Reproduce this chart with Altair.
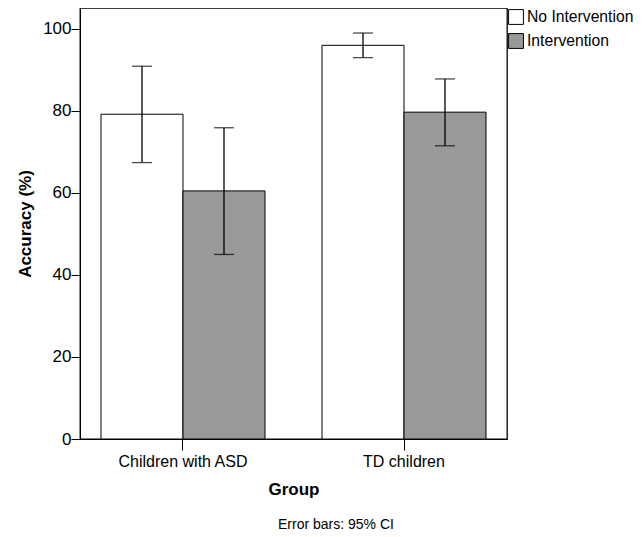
import altair as alt
import pandas as pd

groups = ["Children with ASD", "Children with ASD", "TD children", "TD children"]
conditions = ["No Intervention", "Intervention", "No Intervention", "Intervention"]
means = [79.2, 60.5, 96.0, 79.7]
ci_low = [67.4, 45.0, 93.0, 71.5]
ci_high = [90.9, 75.9, 99.0, 87.8]

df = pd.DataFrame({"group": groups, "cond": conditions, "mean": means,
                   "lo": ci_low, "hi": ci_high})

FONT = "Liberation Sans"
cond_order = ["No Intervention", "Intervention"]

x = alt.X("group:N", title="Group",
          scale=alt.Scale(paddingInner=0.258, paddingOuter=0.095),
          axis=alt.Axis(labelAngle=0, labelFontSize=16, labelFont=FONT,
                        titleFontSize=17, titleFont=FONT, titleFontWeight="bold",
                        tickSize=11, labelPadding=3, titlePadding=12,
                        domainColor="black", tickColor="black", labelColor="black",
                        titleColor="black"))
xo = alt.XOffset("cond:N", sort=cond_order, scale=alt.Scale(domain=cond_order, paddingInner=0, paddingOuter=0))
yscale = alt.Scale(domain=[0, 105.1], nice=False)

bars = alt.Chart(df).mark_bar(stroke="black", strokeWidth=1).encode(
    x=x,
    xOffset=xo,
    y=alt.Y("mean:Q", title="Accuracy (%)", scale=yscale,
            axis=alt.Axis(values=[0, 20, 40, 60, 80, 100], grid=False,
                          labelFontSize=17, labelFont=FONT, tickSize=9, labelPadding=0,
                          titleFontSize=17, titleFont=FONT, titleFontWeight="bold",
                          titlePadding=8, domainColor="black", tickColor="black",
                          labelColor="black", titleColor="black")),
    fill=alt.Fill("cond:N", sort=cond_order,
                  scale=alt.Scale(domain=cond_order, range=["#ffffff", "#999999"]),
                  legend=alt.Legend(title=None, orient="none", legendX=428, legendY=1,
                                    symbolType="square", symbolSize=220,
                                    symbolStrokeColor="black", symbolStrokeWidth=1,
                                    labelFontSize=15.7, labelFont=FONT, labelColor="black",
                                    rowPadding=4, labelOffset=3)),
)

rules = alt.Chart(df).mark_rule(color="black", strokeWidth=1.3).encode(
    x=x, xOffset=xo,
    y=alt.Y("lo:Q", scale=yscale), y2="hi:Q")

cap_lo = alt.Chart(df).mark_tick(color="black", size=20, thickness=1.3, orient="horizontal").encode(
    x=x, xOffset=xo, y=alt.Y("lo:Q", scale=yscale))
cap_hi = alt.Chart(df).mark_tick(color="black", size=20, thickness=1.3, orient="horizontal").encode(
    x=x, xOffset=xo, y=alt.Y("hi:Q", scale=yscale))

note = alt.Chart(pd.DataFrame({"t": ["Error bars: 95% CI"]})).mark_text(
    font=FONT, fontSize=14, color="black").encode(
    text="t:N", x=alt.value(256), y=alt.value(517))

chart = alt.layer(bars, rules, cap_lo, cap_hi, note).properties(
    width=427, height=431,
    autosize=alt.AutoSizeParams(type="none"),
    padding={"left": 72, "top": 0, "right": 128, "bottom": 96},
).configure_view(stroke="black", strokeWidth=1.3)

chart.save("out.html", embed_options={"renderer": "svg", "actions": False})
